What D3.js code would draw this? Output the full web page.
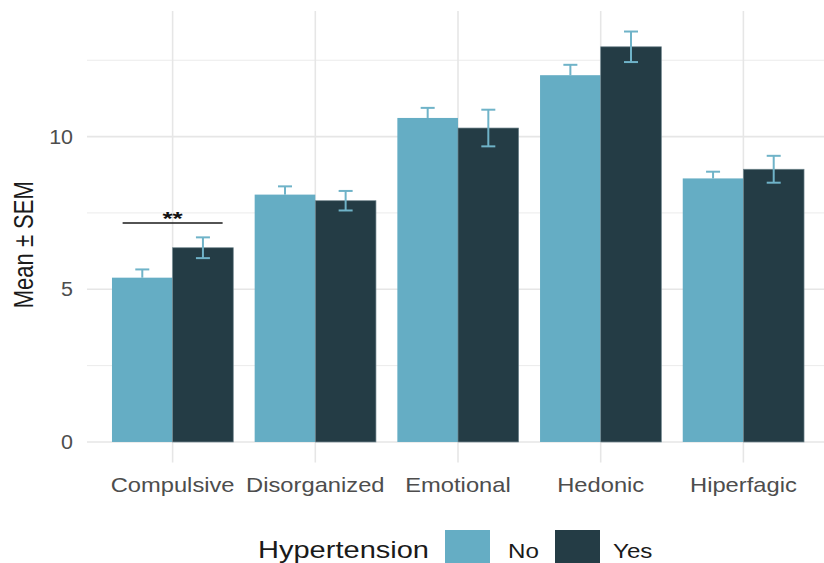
<!DOCTYPE html>
<html>
<head>
<meta charset="utf-8">
<script src="https://cdn.jsdelivr.net/npm/d3@7"></script>
<style>
  html, body { margin: 0; padding: 0; background: #fff; }
  svg { display: block; font-family: "Liberation Sans", Arial, sans-serif; }
</style>
</head>
<body>
<svg id="chart" width="824" height="563"></svg>
<script>
// Eating-behaviour scores by hypertension status (mean ± SEM)
const categories = ["Compulsive", "Disorganized", "Emotional", "Hedonic", "Hiperfagic"];
const groups = ["No", "Yes"];
const meanNo  = [5.38, 8.10, 10.61, 12.01, 8.63];
const semNo   = [0.27, 0.27, 0.33, 0.34, 0.22];
const meanYes = [6.36, 7.90, 10.28, 12.94, 8.93];
const semYes  = [0.34, 0.32, 0.60, 0.50, 0.44];
const yTicks = [0, 5, 10];
const yMinorTicks = [2.5, 7.5, 12.5];
const significance = [{ category: "Compulsive", label: "**", y: 7.17 }];

const colors = { No: "#65adc4", Yes: "#243c45" };
const errColor = "#6fb3c8";

const rows = categories.map((c, i) => ({
  category: c,
  values: [
    { group: "No",  mean: meanNo[i],  sem: semNo[i] },
    { group: "Yes", mean: meanYes[i], sem: semYes[i] }
  ]
}));

const svg = d3.select("#chart");
const panel = { left: 87, right: 829, top: 11, bottom: 462.5 };

// y scale with 5% expansion around the data range (including error bars)
const yMaxData = d3.max(rows, r => d3.max(r.values, v => v.mean + v.sem));
const pad = 0.05 * yMaxData;
const y = d3.scaleLinear().domain([-pad, yMaxData + pad]).range([panel.bottom, panel.top]);

// discrete x scale: 0.6 step of padding on each side
const step = (panel.right - panel.left) / (categories.length - 1 + 1.2);
const x = d3.scalePoint().domain(categories)
  .range([panel.left + 0.6 * step, panel.right - 0.6 * step]);
const groupWidth = 0.85 * step;
const xg = d3.scaleBand().domain(groups).range([-groupWidth / 2, groupWidth / 2]).padding(0);

// gridlines
const grid = svg.append("g");
grid.selectAll("line.minor").data(yMinorTicks).join("line")
  .attr("x1", panel.left).attr("x2", panel.right)
  .attr("y1", d => y(d)).attr("y2", d => y(d))
  .attr("stroke", "#ebebeb").attr("stroke-width", 1);
grid.selectAll("line.major").data(yTicks).join("line")
  .attr("x1", panel.left).attr("x2", panel.right)
  .attr("y1", d => y(d)).attr("y2", d => y(d))
  .attr("stroke", "#e6e6e6").attr("stroke-width", 1.6);
grid.selectAll("line.vx").data(categories).join("line")
  .attr("x1", d => x(d)).attr("x2", d => x(d))
  .attr("y1", panel.top).attr("y2", panel.bottom)
  .attr("stroke", "#e6e6e6").attr("stroke-width", 1.6);

const capHalf = 7;
function drawErrorBars(sel, data, part) {
  const g = sel.selectAll("g.eb").data(data).join("g");
  g.append("line")
    .attr("x1", d => d.cx).attr("x2", d => d.cx)
    .attr("y1", d => y(part === "upper" ? d.mean : d.mean - d.sem))
    .attr("y2", d => y(d.mean + d.sem))
    .attr("stroke", errColor).attr("stroke-width", 2);
  g.append("line")
    .attr("x1", d => d.cx - capHalf).attr("x2", d => d.cx + capHalf)
    .attr("y1", d => y(d.mean + d.sem)).attr("y2", d => y(d.mean + d.sem))
    .attr("stroke", errColor).attr("stroke-width", 2);
  if (part !== "upper") {
    g.append("line")
      .attr("x1", d => d.cx - capHalf).attr("x2", d => d.cx + capHalf)
      .attr("y1", d => y(d.mean - d.sem)).attr("y2", d => y(d.mean - d.sem))
      .attr("stroke", errColor).attr("stroke-width", 2);
  }
}

const flat = rows.flatMap(r => r.values.map(v => ({
  ...v, category: r.category,
  x0: x(r.category) + xg(v.group),
  cx: x(r.category) + xg(v.group) + xg.bandwidth() / 2
})));

// "No" bars sit on top of their own error bars; "Yes" error bars are drawn over the bars
const noData = flat.filter(d => d.group === "No");
const yesData = flat.filter(d => d.group === "Yes");

svg.append("g").call(drawErrorBars, noData, "upper");
svg.append("g").selectAll("rect").data(noData).join("rect")
  .attr("x", d => d.x0).attr("width", xg.bandwidth())
  .attr("y", d => y(d.mean)).attr("height", d => y(0) - y(d.mean))
  .attr("fill", colors.No);
svg.append("g").selectAll("rect").data(yesData).join("rect")
  .attr("x", d => d.x0).attr("width", xg.bandwidth())
  .attr("y", d => y(d.mean)).attr("height", d => y(0) - y(d.mean))
  .attr("fill", colors.Yes).attr("stroke", "#6f858d").attr("stroke-width", 0.7);
svg.append("g").call(drawErrorBars, yesData, "full");

// significance bracket
significance.forEach(s => {
  const cx = x(s.category);
  svg.append("line")
    .attr("x1", cx - 50).attr("x2", cx + 50)
    .attr("y1", y(s.y)).attr("y2", y(s.y))
    .attr("stroke", "#1a1a1a").attr("stroke-width", 1.5);
  svg.append("text")
    .attr("transform", `translate(${cx},${y(s.y) + 2}) scale(1.3,0.9)`)
    .attr("text-anchor", "middle")
    .attr("font-size", 20).attr("font-weight", "bold").attr("fill", "#111")
    .text(s.label);
});

// y axis tick labels
svg.append("g").selectAll("text").data(yTicks).join("text")
  .attr("transform", d => `translate(73,${y(d)}) scale(1.1,1)`)
  .attr("text-anchor", "end").attr("dy", "0.36em")
  .attr("font-size", 19.5).attr("fill", "#4d4d4d")
  .text(d => d);

// x axis labels
svg.append("g").selectAll("text").data(categories).join("text")
  .attr("transform", d => `translate(${x(d)},492) scale(1.13,1)`)
  .attr("text-anchor", "middle")
  .attr("font-size", 21).attr("fill", "#4d4d4d")
  .text(d => d);

// y axis title
svg.append("text")
  .attr("transform", `translate(33,${(panel.top + panel.bottom) / 2 + 8}) rotate(-90) scale(1,1.22)`)
  .attr("text-anchor", "middle")
  .attr("font-size", 22).attr("fill", "#1a1a1a")
  .text("Mean ± SEM");

// legend
const legend = svg.append("g");
legend.append("text")
  .attr("transform", `translate(258,558) scale(1.21,1)`)
  .attr("font-size", 24).attr("fill", "#1a1a1a")
  .text("Hypertension");
const legendItems = [
  { group: "No", keyX: 445, labelX: 508 },
  { group: "Yes", keyX: 555, labelX: 613 }
];
legendItems.forEach(it => {
  legend.append("rect")
    .attr("x", it.keyX).attr("y", 530).attr("width", 45).attr("height", 45)
    .attr("fill", colors[it.group]);
  legend.append("text")
    .attr("transform", `translate(${it.labelX},558) scale(1.15,1)`)
    .attr("font-size", 21).attr("fill", "#1a1a1a")
    .text(it.group);
});
</script>
</body>
</html>
